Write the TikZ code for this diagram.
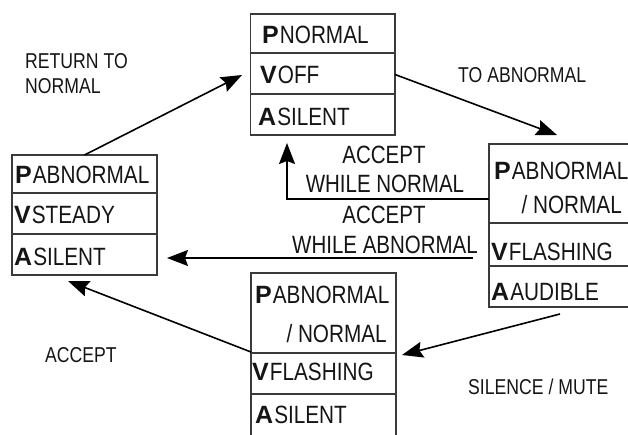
\documentclass[tikz,border=0pt]{standalone}
\usepackage{fontspec}
\usetikzlibrary{arrows.meta}
\newfontfamily\lblfont[FakeStretch=0.82]{Liberation Sans}
\newfontfamily\rowfont[FakeStretch=0.83]{Liberation Sans}
\newfontfamily\keyfont{Liberation Sans}
\newcommand\keyletter[1]{{\keyfont\bfseries\fontsize{25}{28}\selectfont #1}\hspace{1pt}}
\definecolor{ink}{HTML}{151515}
\definecolor{frame}{HTML}{3A3A3A}

\begin{document}
\begin{tikzpicture}[x=1pt, y=-1pt,
  statebox/.style={draw=frame, line width=1.1pt, inner sep=0pt, outer sep=0pt, anchor=north west},
  rowline/.style={draw=frame, line width=1.1pt},
  entry/.style={anchor=base west, inner sep=0pt, text=ink, font=\rowfont\fontsize{25}{28}\selectfont},
  entryR/.style={entry, anchor=base east},
  tag/.style={anchor=base west, inner sep=0pt, text=ink, font=\lblfont\fontsize{21.5}{24}\selectfont},
  midtag/.style={anchor=base, inner sep=0pt, text=ink, font=\lblfont\fontsize{25}{28}\selectfont},
  flow/.style={draw=black, line width=1.6pt, -{Stealth[length=21pt,width=16pt,inset=3pt]}}
]
\useasboundingbox (0,0) rectangle (628,434);

% ---- state boxes ----
\node[statebox, minimum width=144.5pt, minimum height=121pt] (topbox) at (250.5,14) {};
\draw[rowline] (topbox.west |- 0,53) -- (topbox.east |- 0,53);
\draw[rowline] (topbox.west |- 0,94) -- (topbox.east |- 0,94);
\node[entry] (top-p) at (262,43) {\keyletter{P}NORMAL};
\node[entry] (top-v) at (260,83) {\keyletter{V}OFF};
\node[entry] (top-a) at (258,125) {\keyletter{A}SILENT};

\node[statebox, minimum width=145pt, minimum height=120pt] (leftbox) at (12,155) {};
\draw[rowline] (leftbox.west |- 0,193) -- (leftbox.east |- 0,193);
\draw[rowline] (leftbox.west |- 0,234) -- (leftbox.east |- 0,234);
\node[entry] (left-p) at (15,183) {\keyletter{P}ABNORMAL};
\node[entry] (left-v) at (14,223) {\keyletter{V}STEADY};
\node[entry] (left-a) at (14,265) {\keyletter{A}SILENT};

\node[statebox, minimum width=141pt, minimum height=163pt] (rightbox) at (489,144) {};
\draw[rowline] (rightbox.west |- 0,223) -- (rightbox.east |- 0,223);
\draw[rowline] (rightbox.west |- 0,266) -- (rightbox.east |- 0,266);
\node[entry] (right-p) at (494,179) {\keyletter{P}ABNORMAL};
\node[entryR] (right-p2) at (622,213) {/ NORMAL};
\node[entry] (right-v) at (491,260) {\keyletter{V}FLASHING};
\node[entry] (right-a) at (491,300) {\keyletter{A}AUDIBLE};

\node[statebox, minimum width=145pt, minimum height=164pt] (botbox) at (251,273) {};
\draw[rowline] (botbox.west |- 0,353) -- (botbox.east |- 0,353);
\draw[rowline] (botbox.west |- 0,394) -- (botbox.east |- 0,394);
\node[entry] (bot-p) at (255,303) {\keyletter{P}ABNORMAL};
\node[entryR] (bot-p2) at (387,342) {/ NORMAL};
\node[entry] (bot-v) at (252,380) {\keyletter{V}FLASHING};
\node[entry] (bot-a) at (255,423) {\keyletter{A}SILENT};

% ---- connector end points ----
\coordinate (rtn-tip) at (242,75);
\coordinate (abn-tip) at (557,135);
\coordinate (awn-start) at (rightbox.west |- 0,199);
\coordinate (awn-bend) at (287,199);
\coordinate (awn-tip) at (287,143);
\coordinate (awa-start) at (473,258);
\coordinate (awa-tip) at (167,258);
\coordinate (mute-start) at (560,314);
\coordinate (mute-tip) at (402,355);
\coordinate (acc-start) at (botbox.west |- 0,352);
\coordinate (acc-tip) at (68,281);

% ---- transitions ----
\draw[flow] (leftbox.north) -- (rtn-tip);
\draw[flow] (topbox.east) -- (abn-tip);
\draw[flow] (awn-start) -- (awn-bend) -- (awn-tip);
\draw[flow] (awa-start) -- (awa-tip);
\draw[flow] (mute-start) -- (mute-tip);
\draw[flow] (acc-start) -- (acc-tip);

% ---- transition labels ----
\node[tag] (rtn-l1) at (25,68) {RETURN TO};
\node[tag] (rtn-l2) at (25,93) {NORMAL};
\node[tag] (abn-l) at (458,82) {TO ABNORMAL};
\node[midtag] (awn-l1) at (384,163) {ACCEPT};
\node[midtag] (awn-l2) at (385,192) {WHILE NORMAL};
\node[midtag] (awa-l1) at (384,223) {ACCEPT};
\node[midtag] (awa-l2) at (385,253) {WHILE ABNORMAL};
\node[tag] (acc-l) at (45,362) {ACCEPT};
\node[tag] (mute-l) at (468,394) {SILENCE / MUTE};
\end{tikzpicture}
\end{document}
